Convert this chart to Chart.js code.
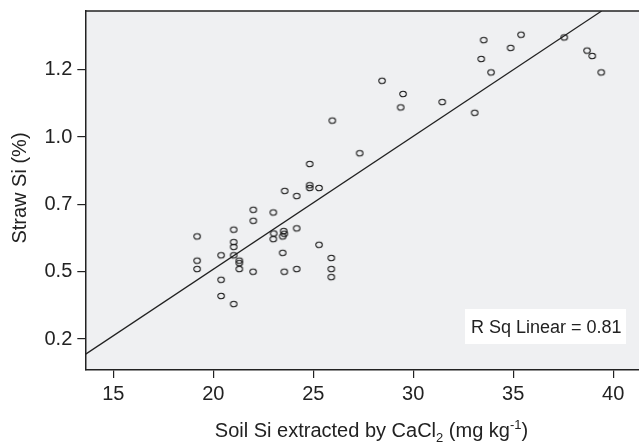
<!DOCTYPE html>
<html>
<head>
<meta charset="utf-8">
<script src="https://cdn.jsdelivr.net/npm/chart.js@4/dist/chart.umd.min.js"></script>
<style>
    html, body { margin: 0; padding: 0; background: #fff; overflow: hidden; }
    #scatterChart { display: block; position: absolute; left: 0; top: 0; }
</style>
</head>
<body>
<canvas id="scatterChart" width="639" height="443"></canvas>
<script>
// Soil Si (CaCl2 extract, mg/kg) vs straw Si (%)
const soilSi = [
    19.19, 19.19, 19.19, 20.39, 20.39, 20.39, 21.02, 21.02, 21.02, 21.02,
    21.02, 21.30, 21.30, 21.30, 21.99, 22.00, 22.00, 23.00, 23.00, 23.02,
    23.47, 23.52, 23.55, 23.47, 23.55, 24.17, 24.17, 23.57, 24.17, 24.82,
    24.82, 25.29, 24.82, 25.29, 25.90, 25.90, 25.90, 25.95, 27.32, 28.44,
    29.49, 29.37, 31.45, 33.07, 33.52, 33.40, 33.89, 34.87, 35.39, 37.55,
    38.69, 38.95, 39.40
];
const strawSi = [
    0.631, 0.541, 0.510, 0.561, 0.470, 0.410, 0.656, 0.610, 0.592, 0.561,
    0.380, 0.541, 0.532, 0.510, 0.500, 0.689, 0.730, 0.720, 0.621, 0.642,
    0.631, 0.651, 0.641, 0.570, 0.500, 0.661, 0.510, 0.800, 0.781, 0.821,
    0.811, 0.811, 0.900, 0.600, 0.551, 0.510, 0.480, 1.061, 0.940, 1.209,
    1.160, 1.110, 1.130, 1.090, 1.360, 1.290, 1.240, 1.331, 1.380, 1.370,
    1.321, 1.301, 1.240
];

// fitted line end points (as drawn)
const fitX = [13.6, 39.42];
const fitY = [0.193, 1.468];

const xTickValues = [15, 20, 25, 30, 35, 40];
const yTickValues = [0.25, 0.5, 0.75, 1.0, 1.25];
const yTickLabels = ['0.2', '0.5', '0.7', '1.0', '1.2'];

const rSqText = 'R Sq Linear = 0.81';

Chart.defaults.font.family = '"Liberation Sans", Arial, sans-serif';
Chart.defaults.color = '#222';

// open ellipse marker
const marker = document.createElement('canvas');
marker.width = 10;
marker.height = 10;
const mctx = marker.getContext('2d');
mctx.strokeStyle = '#1a1a1a';
mctx.lineWidth = 1.05;
mctx.beginPath();
mctx.ellipse(5, 5, 3.3, 2.8, 0, 0, Math.PI * 2);
mctx.stroke();

// remove the auto label padding so the plot area matches the original frame
const noPad = (scale) => {
    scale.paddingTop = 0;
    scale.paddingBottom = 0;
    scale.paddingLeft = 0;
    scale.paddingRight = 0;
};

const plotDecor = {
    id: 'plotDecor',
    beforeDraw(chart) {
        const { ctx, chartArea: a } = chart;
        ctx.save();
        ctx.fillStyle = '#eff0f2';
        ctx.fillRect(a.left, a.top, a.right - a.left, a.bottom - a.top);
        ctx.strokeStyle = '#222';
        ctx.lineWidth = 1.5;
        ctx.beginPath();
        ctx.moveTo(a.left, a.top);
        ctx.lineTo(a.right, a.top);
        ctx.stroke();
        ctx.restore();
    },
    afterDraw(chart) {
        const { ctx } = chart;
        ctx.save();
        // R sq box
        ctx.fillStyle = '#fff';
        ctx.fillRect(465, 309, 161, 35);
        ctx.fillStyle = '#222';
        ctx.font = '18px "Liberation Sans", Arial, sans-serif';
        ctx.textBaseline = 'alphabetic';
        ctx.textAlign = 'left';
        ctx.fillText(rSqText, 471, 333);

        // y title
        ctx.font = '20px "Liberation Sans", Arial, sans-serif';
        ctx.translate(20, 188);
        ctx.rotate(-Math.PI / 2);
        ctx.textAlign = 'center';
        ctx.textBaseline = 'middle';
        ctx.fillText('Straw Si (%)', 0, 0);
        ctx.restore();

        // x title with subscript / superscript
        ctx.save();
        ctx.fillStyle = '#222';
        ctx.textBaseline = 'alphabetic';
        ctx.textAlign = 'left';
        const big = '20px "Liberation Sans", Arial, sans-serif';
        const small = '13px "Liberation Sans", Arial, sans-serif';
        const parts = [
            ['Soil Si extracted by CaCl', big, 0],
            ['2', small, 5],
            [' (mg kg', big, 0],
            ['-1', small, -8],
            [')', big, 0]
        ];
        let total = 0;
        parts.forEach(p => { ctx.font = p[1]; total += ctx.measureText(p[0]).width; });
        let x = 371.5 - total / 2;
        const base = 437;
        parts.forEach(p => {
            ctx.font = p[1];
            ctx.fillText(p[0], x, base + p[2]);
            x += ctx.measureText(p[0]).width;
        });
        ctx.restore();
    }
};

const ctx = document.getElementById('scatterChart').getContext('2d');
const scatterChart = new Chart(ctx, {
    type: 'scatter',
    data: {
        datasets: [{
            label: 'Straw Si',
            data: soilSi.map((x, i) => ({ x: x, y: strawSi[i] })),
            pointStyle: marker,
            pointRadius: 4,
            pointHoverRadius: 4
        }, {
            type: 'line',
            label: 'Linear fit',
            data: fitX.map((x, i) => ({ x: x, y: fitY[i] })),
            borderColor: '#222',
            borderWidth: 1.2,
            pointRadius: 0,
            fill: false
        }]
    },
    options: {
        responsive: false,
        animation: false,
        // plot frame runs to the right edge of the image
        layout: { autoPadding: false, padding: { top: 11, right: 0, left: 0, bottom: 0 } },
        plugins: {
            legend: { display: false },
            tooltip: { enabled: false }
        },
        scales: {
            x: {
                type: 'linear',
                min: 13.6,
                max: 41.29,
                afterBuildTicks: (scale) => { scale.ticks = xTickValues.map(v => ({ value: v })); },
                afterFit: (scale) => { scale.height = 73; noPad(scale); },
                grid: { display: true, drawOnChartArea: false, drawTicks: true, tickLength: 8, color: '#222', lineWidth: 1.2 },
                border: { display: true, color: '#222', width: 1.5 },
                ticks: { font: { size: 20 }, color: '#222', padding: 4, maxRotation: 0 }
            },
            y: {
                type: 'linear',
                min: 0.135,
                max: 1.468,
                afterBuildTicks: (scale) => { scale.ticks = yTickValues.map(v => ({ value: v })); },
                afterFit: (scale) => { scale.width = 85.3; noPad(scale); },
                grid: { display: true, drawOnChartArea: false, drawTicks: true, tickLength: 8, color: '#222', lineWidth: 1.2 },
                border: { display: true, color: '#222', width: 1.5 },
                ticks: {
                    font: { size: 20 },
                    color: '#222',
                    padding: 5,
                    callback: (value) => yTickLabels[yTickValues.indexOf(value)]
                }
            }
        }
    },
    plugins: [plotDecor]
});
</script>
</body>
</html>
